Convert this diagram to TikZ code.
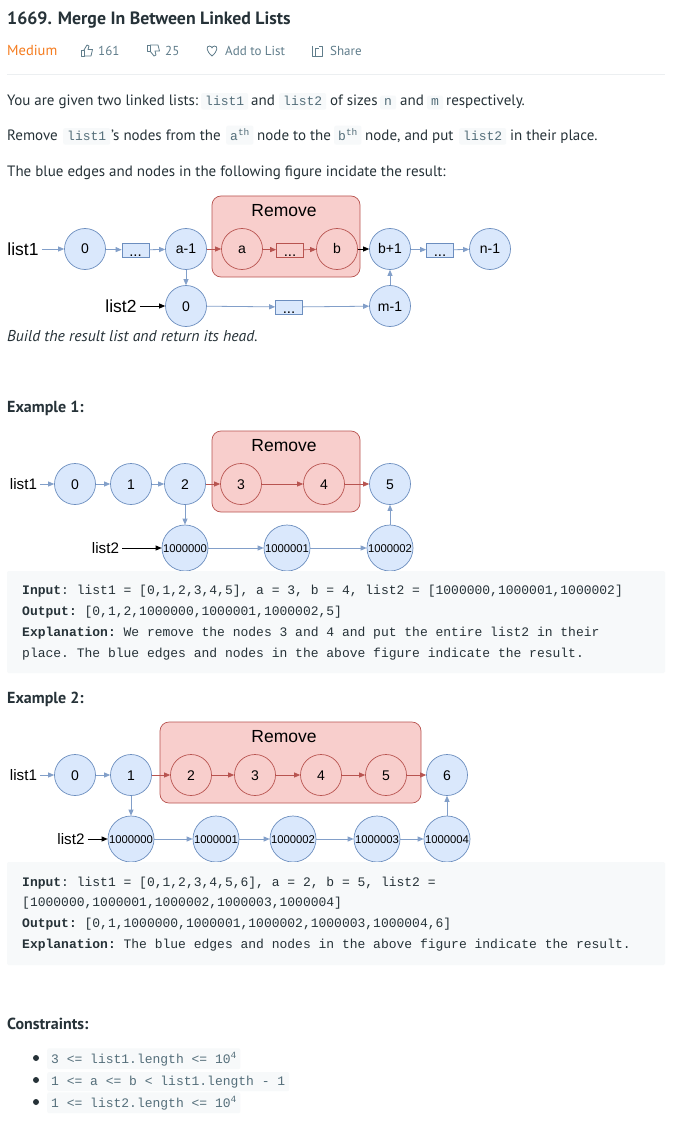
\documentclass[tikz,border=0pt]{standalone}
\usepackage{fontspec}
\setmainfont{PT Sans}
\setmonofont{Liberation Mono}
\newfontfamily\diagfont{Liberation Sans}
\usetikzlibrary{arrows.meta}
\definecolor{nodeblue}{HTML}{DAE8FC}
\definecolor{edgeblue}{HTML}{6C8EBF}
\definecolor{nodered}{HTML}{F8CECC}
\definecolor{edgered}{HTML}{B85450}
\definecolor{codebg}{HTML}{F7F9FA}
\definecolor{codefg}{HTML}{546E7A}
\definecolor{inkdark}{HTML}{263238}
\definecolor{metagrey}{HTML}{607D8B}
\definecolor{rulegrey}{HTML}{ECEFF1}
\definecolor{mediumorange}{HTML}{F57C1F}
\tikzset{>={Stealth[inset=0pt,length=6pt,width=5pt]}}
\tikzset{
  listnode/.style={circle,draw=edgeblue,fill=nodeblue,minimum size=41,inner sep=0,line width=0.7,text height=10,text depth=0,font=\diagfont\fontsize{14}{16}\selectfont},
  rednode/.style={listnode,draw=edgered,fill=nodered},
  bignode/.style={listnode,minimum size=46,text height=8,font=\diagfont\fontsize{11.3}{13}\selectfont},
  dotsbox/.style={draw=edgeblue,fill=nodeblue,minimum width=27,minimum height=14,inner sep=0,line width=0.7,text height=12,text depth=0,font=\diagfont\fontsize{15}{8}\selectfont},
  reddots/.style={dotsbox,draw=edgered,fill=nodered},
  removebox/.style={draw=edgered,fill=nodered,rounded corners=9,inner sep=0,line width=0.7},
  removetext/.style={inner sep=0,font=\diagfont\fontsize{17.5}{20}\selectfont},
  listlabel/.style={inner sep=3,font=\diagfont\fontsize{17.5}{20}\selectfont},
  smalllabel/.style={inner sep=3,font=\diagfont\fontsize{15.2}{18}\selectfont},
  bluearrow/.style={->,edgeblue!85,line width=0.8},
  redarrow/.style={->,edgered,line width=0.7},
  blackarrow/.style={->,black,line width=0.7},
  bodytext/.style={anchor=base west,inner sep=0,text=inkdark,font=\fontsize{15}{18}\selectfont},
  headtext/.style={bodytext,font=\bfseries\fontsize{16}{18}\selectfont},
  metatext/.style={anchor=base west,inner sep=0,text=metagrey,font=\fontsize{13}{16}\selectfont},
  inlinecode/.style={anchor=base west,fill=codebg,text=codefg,rounded corners=2,inner xsep=4,inner ysep=3.5,font=\ttfamily\fontsize{13}{15}\selectfont},
  codeline/.style={anchor=base west,inner sep=0,text=inkdark,font=\ttfamily\fontsize{13}{15}\selectfont},
  codeblock/.style={fill=codebg,rounded corners=2,inner sep=0,minimum width=658},
  icon/.style={metagrey,line width=0.8,line join=round},
}
\begin{document}
\begin{tikzpicture}[x=1pt,y=-1pt]
    \useasboundingbox[fill=white] (0,0) rectangle (675,1123);
    % page head
    \node (title) at (7,25) [bodytext,font=\bfseries\fontsize{17.8}{20}\selectfont]{1669. Merge In Between Linked Lists};
    \node (medium) at (7,56) [metatext,text=mediumorange,font=\fontsize{14.5}{16}\selectfont]{Medium};
    \node (likes) at (98,56) [metatext]{161};
    \node (dislikes) at (165,56) [metatext]{25};
    \node (addlist) at (225,56) [metatext]{Add to List};
    \node (share) at (330,56) [metatext]{Share};
    \draw[icon] (81,50)--(84,50)--(84,56)--(81,56)--cycle;
    \draw[icon] (84,50)--(87,45)--(89,46)--(88,49.5)--(92.5,49.5)--(91,56)--(84,56);
    \draw[icon] (147,45)--(150,45)--(150,51)--(147,51)--cycle;
    \draw[icon] (150,45)--(158,45)--(159.5,51)--(155,51)--(156,55)--(154,56)--(150,51);
    \draw[icon] (212,56)..controls (206,51) and (206,46) .. (209.5,46)..controls (211,46) and (212,47.5) .. (212,48)..controls (212,47.5) and (213,46) .. (214.5,46)..controls (218,46) and (218,51) .. (212,56)--cycle;
    \draw[icon] (312,46)--(312,56)--(322,56)--(322,46)--(318.5,46);
    \draw[icon] (315,56)--(315,48.5)--(319,48.5);
    \draw[rulegrey,line width=0.8] (7,74)--(665,74);
    % first paragraph lines
    \node (cl1) at (201,106) [inlinecode]{list1};
    \node (cl2) at (279,106) [inlinecode]{list2};
    \node (cn) at (380,106) [inlinecode]{n};
    \node (cm) at (427,106) [inlinecode]{m};
    \node (youare) at (7,106) [bodytext]{You are given two linked lists:};
    \node (and1) at (251,106) [bodytext]{and};
    \node (ofsizes) at (330,106) [bodytext]{of sizes};
    \node (and2) at (400,106) [bodytext]{and};
    \node (resp) at (446,106) [bodytext]{respectively.};
    \node (cl3) at (63,141) [inlinecode]{list1};
    \node (cath) at (226,141) [inlinecode]{a\raisebox{5pt}{\fontsize{9.5}{10}\selectfont th}};
    \node (cbth) at (334,141) [inlinecode]{b\raisebox{5pt}{\fontsize{9.5}{10}\selectfont th}};
    \node (cl4) at (459,141) [inlinecode]{list2};
    \node (removeword) at (7,141) [bodytext]{Remove};
    \node (snodes) at (111,141) [bodytext]{'s nodes from the};
    \node (nodeto) at (257,141) [bodytext]{node to the};
    \node (nodeput) at (365,141) [bodytext]{node, and put};
    \node (intheir) at (510,141) [bodytext]{in their place.};
    \node (bluetext) at (7,177) [bodytext]{The blue edges and nodes in the following figure incidate the result:};
    % first figure
    \node (rma) at (286,236.5) [removebox,minimum width=148,minimum height=81]{};
    \node (rmatext) at (284,211) [removetext]{Remove};
    \node (hd1) at (23,249) [listlabel]{list1};
    \node (a0) at (85,249) [listnode]{0};
    \node (ad1) at (135.5,250) [dotsbox]{...};
    \node (am) at (186,249) [listnode]{a-1};
    \node (aa) at (242,249) [rednode]{a};
    \node (ad2) at (290,250) [reddots]{...};
    \node (ab) at (337,249) [rednode]{b};
    \node (ap) at (390,249) [listnode]{b+1};
    \node (ad3) at (440,250) [dotsbox]{...};
    \node (an) at (490,249) [listnode]{n-1};
    \node (hd2) at (121,306) [listlabel]{list2};
    \node (b0) at (186,306) [listnode]{0};
    \node (bd) at (289,307) [dotsbox]{...};
    \node (bm) at (390,306) [listnode]{m-1};
    \draw[bluearrow] (hd1)--(a0);
    \draw[bluearrow] (a0)--(ad1);
    \draw[bluearrow] (ad1)--(am);
    \draw[redarrow] (am)--(aa);
    \draw[redarrow] (aa)--(ad2);
    \draw[redarrow] (ad2)--(ab);
    \draw[blackarrow] (ab)--(ap);
    \draw[bluearrow] (ap)--(ad3);
    \draw[bluearrow] (ad3)--(an);
    \draw[bluearrow] (am)--(b0);
    \draw[blackarrow] (hd2)--(b0);
    \draw[bluearrow] (b0)--(bd);
    \draw[bluearrow] (bd)--(bm);
    \draw[bluearrow] (bm)--(ap);
    \node (buildtext) at (7,341) [bodytext,font=\itshape\fontsize{15.7}{18}\selectfont]{Build the result list and return its head.};
    % example 1
    \node (ex1head) at (7,412) [headtext]{Example 1:};
    \node (rmb) at (286,471.5) [removebox,minimum width=148,minimum height=81]{};
    \node (rmbtext) at (284,446) [removetext]{Remove};
    \node (hd3) at (23.5,484) [smalllabel]{list1};
    \node (c0) at (75,484) [listnode]{0};
    \node (c1) at (131,484) [listnode]{1};
    \node (c2) at (185,484) [listnode]{2};
    \node (c3) at (241,484) [rednode]{3};
    \node (c4) at (324,484) [rednode]{4};
    \node (c5) at (390,484) [listnode]{5};
    \node (hd4) at (105.5,548) [smalllabel]{list2};
    \node (d0) at (185,548) [bignode]{1000000};
    \node (d1) at (287,548) [bignode]{1000001};
    \node (d2) at (390,548) [bignode]{1000002};
    \draw[bluearrow] (hd3)--(c0);
    \draw[bluearrow] (c0)--(c1);
    \draw[bluearrow] (c1)--(c2);
    \draw[redarrow] (c2)--(c3);
    \draw[redarrow] (c3)--(c4);
    \draw[redarrow] (c4)--(c5);
    \draw[bluearrow] (c2)--(d0);
    \draw[blackarrow] (hd4)--(d0);
    \draw[bluearrow] (d0)--(d1);
    \draw[bluearrow] (d1)--(d2);
    \draw[bluearrow] (d2)--(c5);
    \node (blocka) at (336,622) [codeblock,minimum height=102]{};
    \node (l11) at (22,594) [codeline]{\textbf{Input}: list1 = [0,1,2,3,4,5], a = 3, b = 4, list2 = [1000000,1000001,1000002]};
    \node (l12) at (22,615) [codeline]{\textbf{Output:} [0,1,2,1000000,1000001,1000002,5]};
    \node (l13) at (22,636) [codeline]{\textbf{Explanation:} We remove the nodes 3 and 4 and put the entire list2 in their};
    \node (l14) at (22,657) [codeline]{place. The blue edges and nodes in the above figure indicate the result.};
    % example 2
    \node (ex2head) at (7,703) [headtext]{Example 2:};
    \node (rmc) at (290.5,762.5) [removebox,minimum width=261,minimum height=81]{};
    \node (rmctext) at (284,737) [removetext]{Remove};
    \node (hd5) at (23.5,775) [smalllabel]{list1};
    \node (e0) at (75,775) [listnode]{0};
    \node (e1) at (131,775) [listnode]{1};
    \node (e2) at (191,775) [rednode]{2};
    \node (e3) at (255,775) [rednode]{3};
    \node (e4) at (321,775) [rednode]{4};
    \node (e5) at (386,775) [rednode]{5};
    \node (e6) at (447,775) [listnode]{6};
    \node (hd6) at (71,839) [smalllabel]{list2};
    \node (f0) at (131,839) [bignode]{1000000};
    \node (f1) at (216,839) [bignode]{1000001};
    \node (f2) at (293,839) [bignode]{1000002};
    \node (f3) at (377,839) [bignode]{1000003};
    \node (f4) at (447,839) [bignode]{1000004};
    \draw[bluearrow] (hd5)--(e0);
    \draw[bluearrow] (e0)--(e1);
    \draw[redarrow] (e1)--(e2);
    \draw[redarrow] (e2)--(e3);
    \draw[redarrow] (e3)--(e4);
    \draw[redarrow] (e4)--(e5);
    \draw[redarrow] (e5)--(e6);
    \draw[bluearrow] (e1)--(f0);
    \draw[blackarrow] (hd6)--(f0);
    \draw[bluearrow] (f0)--(f1);
    \draw[bluearrow] (f1)--(f2);
    \draw[bluearrow] (f2)--(f3);
    \draw[bluearrow] (f3)--(f4);
    \draw[bluearrow] (f4)--(e6);
    \node (blockb) at (336,913.5) [codeblock,minimum height=103]{};
    \node (l21) at (22,886) [codeline]{\textbf{Input}: list1 = [0,1,2,3,4,5,6], a = 2, b = 5, list2 =};
    \node (l22) at (22,906) [codeline]{[1000000,1000001,1000002,1000003,1000004]};
    \node (l23) at (22,927) [codeline]{\textbf{Output:} [0,1,1000000,1000001,1000002,1000003,1000004,6]};
    \node (l24) at (22,948) [codeline]{\textbf{Explanation:} The blue edges and nodes in the above figure indicate the result.};
    % constraints
    \node (conhead) at (7,1029) [headtext]{Constraints:};
    \node (bul1) at (36,1058) [circle,fill=inkdark,inner sep=0,minimum size=6]{};
    \node (bul2) at (36,1080) [circle,fill=inkdark,inner sep=0,minimum size=6]{};
    \node (bul3) at (36,1102) [circle,fill=inkdark,inner sep=0,minimum size=6]{};
    \node (con1) at (47,1063) [inlinecode]{3 <= list1.length <= 10\raisebox{5pt}{\fontsize{9.5}{10}\selectfont 4}};
    \node (con2) at (47,1085) [inlinecode]{1 <= a <= b < list1.length - 1};
    \node (con3) at (47,1107) [inlinecode]{1 <= list2.length <= 10\raisebox{5pt}{\fontsize{9.5}{10}\selectfont 4}};
\end{tikzpicture}
\end{document}
